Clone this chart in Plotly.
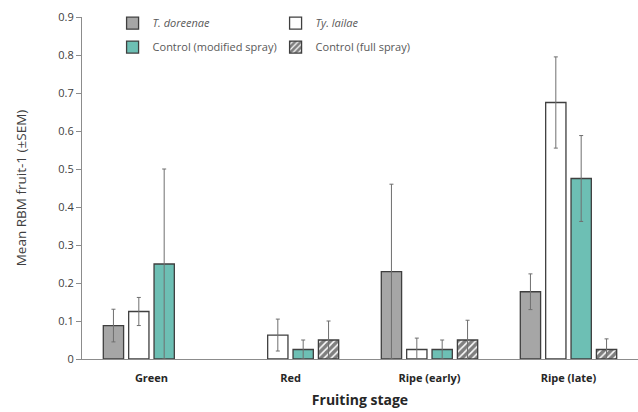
import plotly.graph_objects as go

stages = ["Green", "Red", "Ripe (early)", "Ripe (late)"]
series_names = ["<i>T. doreenae</i>", "<i>Ty. lailae</i>", "Control (modified spray)", "Control (full spray)"]
doreenae = [0.088, None, 0.230, 0.177]
doreenae_err = [0.043, None, 0.230, 0.047]
lailae = [0.125, 0.063, 0.025, 0.675]
lailae_err = [0.037, 0.042, 0.030, 0.120]
ctrl_mod = [0.250, 0.025, 0.025, 0.475]
ctrl_mod_err = [0.250, 0.025, 0.025, 0.113]
ctrl_full = [None, 0.050, 0.050, 0.025]
ctrl_full_err = [None, 0.050, 0.052, 0.028]
y_ticks = [0, 0.1, 0.2, 0.3, 0.4, 0.5, 0.6, 0.7, 0.8, 0.9]
y_tick_labels = ["0", "0.1", "0.2", "0.3", "0.4", "0.5", "0.6", "0.7", "0.8", "0.9"]

outline = dict(color="#3f3f3f", width=1.3)
err_style = dict(type="data", color="#6f6f6f", thickness=1, width=2)

fig = go.Figure()
fig.add_bar(name=series_names[0], x=stages, y=doreenae, legend="legend",
            error_y=dict(array=doreenae_err, visible=True, **err_style),
            marker=dict(color="#a6a6a6", line=outline))
fig.add_bar(name=series_names[1], x=stages, y=lailae, legend="legend",
            error_y=dict(array=lailae_err, visible=True, **err_style),
            marker=dict(color="#ffffff", line=outline))
fig.add_bar(name=series_names[2], x=stages, y=ctrl_mod, legend="legend2",
            error_y=dict(array=ctrl_mod_err, visible=True, **err_style),
            marker=dict(color="#6dbfb4", line=outline))
fig.add_bar(name=series_names[3], x=stages, y=ctrl_full, legend="legend2",
            error_y=dict(array=ctrl_full_err, visible=True, **err_style),
            marker=dict(color="#ffffff", line=outline,
                        pattern=dict(shape="/", fgcolor="#000000", bgcolor="#ffffff",
                                     size=5, solidity=0.7)))

legend_common = dict(orientation="h", xanchor="left", yanchor="middle",
                     entrywidth=118, entrywidthmode="pixels",
                     font=dict(size=11, color="#595959"), bgcolor="rgba(0,0,0,0)",
                     itemwidth=30)

fig.update_layout(
    width=638, height=412,
    margin=dict(l=82, r=0, t=17, b=53),
    plot_bgcolor="white", paper_bgcolor="white",
    barmode="group", bargap=0.27, bargroupgap=0.2,
    font=dict(family="Open Sans, Liberation Sans, sans-serif", color="#404040", size=11),
    showlegend=True,
    legend=dict(x=0.055, y=0.982, **legend_common),
    legend2=dict(x=0.055, y=0.912, **legend_common),
)
fig.update_xaxes(range=[-0.5, 3.5], showline=True, linecolor="#8c8c8c", linewidth=1,
                 ticks="outside", ticklen=9, tickcolor="rgba(255,255,255,0)",
                 tickfont=dict(size=11, color="#262626", family="Open Sans, sans-serif"),
                 tickprefix="<b>", ticksuffix="</b>",
                 title=dict(text="<b>Fruiting stage</b>", font=dict(size=14, color="#262626"), standoff=10))
fig.update_yaxes(range=[0, 0.9], tickvals=y_ticks, ticktext=y_tick_labels, showline=True,
                 linecolor="#8c8c8c", linewidth=1, ticks="outside", ticklen=5, tickcolor="#8c8c8c",
                 showgrid=False, zeroline=False, tickfont=dict(size=11, color="#404040"),
                 title=dict(text="Mean RBM fruit-1 (±SEM)", font=dict(size=13.5, color="#404040"), standoff=28))

fig.write_html("out.html", config={"displayModeBar": False},
               post_script="document.body.style.margin='0';document.body.style.padding='0';")
